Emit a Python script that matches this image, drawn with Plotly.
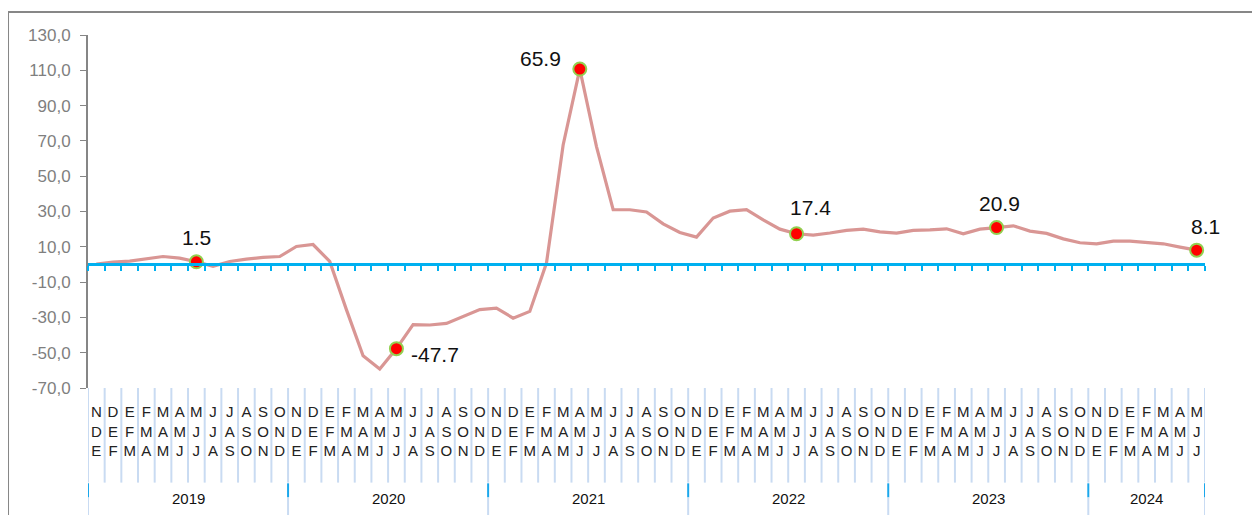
import plotly.graph_objects as go

# ---- data ----
periods = ["NDE", "DEF", "EFM", "FMA", "MAM", "AMJ", "MJJ", "JJA", "JAS", "ASO", "SON", "OND"]
years = ["2019", "2020", "2021", "2022", "2023", "2024"]
year_counts = [12, 12, 12, 12, 12, 7]
categories = []
for y, n in zip(years, year_counts):
    categories += periods[:n]

values = [0.2, 1.3, 1.9, 3.2, 4.5, 3.6, 1.5, -1.1, 1.7, 3.0, 4.0, 4.5,
          10.2, 11.3, 1.7, -25.6, -51.7, -59.2, -47.7, -34.1, -34.3, -33.4, -29.4, -25.6,
          -24.7, -30.4, -26.6, 0.8, 67.7, 110.7, 66.8, 31.0, 31.0, 29.7, 23.0, 18.1,
          15.5, 26.3, 30.2, 31.0, 25.3, 20.0, 17.4, 16.6, 17.8, 19.3, 20.0, 18.5,
          17.8, 19.3, 19.6, 20.2, 17.4, 20.0, 20.9, 21.9, 18.9, 17.6, 14.5, 12.3,
          11.7, 13.2, 13.2, 12.3, 11.7, 9.8, 8.1]

label_idx = [6, 18, 29, 42, 54, 66]
label_text = ["1.5", "-47.7", "65.9", "17.4", "20.9", "8.1"]
label_shift = [(0, 24), (39, -6), (-39, 11), (14, 26), (3, 24), (9, 24)]

y_ticks = [-70, -50, -30, -10, 10, 30, 50, 70, 90, 110, 130]
y_ticktext = [f"{v:.1f}".replace(".", ",") for v in y_ticks]

n = len(categories)
xs = list(range(n))
FONT = "Liberation Sans, Arial, sans-serif"

fig = go.Figure()
fig.add_trace(go.Scatter(
    x=xs, y=values, mode="lines",
    line=dict(color="#d99694", width=3.2), hoverinfo="skip", showlegend=False))
fig.add_trace(go.Scatter(
    x=[xs[i] for i in label_idx], y=[values[i] for i in label_idx], mode="markers",
    marker=dict(color="#ff0000", size=13, line=dict(color="#92d050", width=2)),
    hoverinfo="skip", showlegend=False))
# dummy trace to activate the zero-crossing axis
fig.add_trace(go.Scatter(x=[0], y=[0], xaxis="x2", mode="markers",
                         marker=dict(opacity=0), hoverinfo="skip", showlegend=False))

for i, t, (dx, dy) in zip(label_idx, label_text, label_shift):
    fig.add_annotation(x=xs[i], y=values[i], text=t, showarrow=False,
                       xshift=dx, yshift=dy, font=dict(size=21, color="#111111", family=FONT))

# category separators
for b in range(n + 1):
    fig.add_shape(type="line", xref="x", yref="paper", x0=b - 0.5, x1=b - 0.5,
                  y0=0, y1=-0.268, line=dict(color="#c9dbf2", width=2))
# year separators and labels
start = 0
bounds = [0]
for y, c in zip(years, year_counts):
    fig.add_annotation(x=start + (c - 1) / 2, y=-0.312, xref="x", yref="paper",
                       yanchor="middle", text=y, showarrow=False,
                       font=dict(size=15, color="#111111", family=FONT))
    start += c
    bounds.append(start)
for b in bounds:
    fig.add_shape(type="line", xref="x", yref="paper", x0=b - 0.5, x1=b - 0.5,
                  y0=-0.27, y1=-0.31, line=dict(color="#1aa7ec", width=2))
    fig.add_shape(type="line", xref="x", yref="paper", x0=b - 0.5, x1=b - 0.5,
                  y0=-0.31, y1=-0.36, line=dict(color="#c9dbf2", width=2))

# outer frame (top and left)
fig.add_shape(type="line", xref="paper", yref="paper", x0=-0.0716, x1=1.1, y0=1.065, y1=1.065,
              line=dict(color="#878787", width=2))
fig.add_shape(type="line", xref="paper", yref="paper", x0=-0.0716, x1=-0.0716, y0=1.065, y1=-0.5,
              line=dict(color="#878787", width=2))

fig.update_layout(
    width=1252, height=507,
    margin=dict(l=80, r=55, t=27, b=127),
    paper_bgcolor="white", plot_bgcolor="white",
    font=dict(family=FONT),
    xaxis=dict(range=[-0.5, n - 0.5], tickmode="array", tickvals=xs,
               ticktext=["<br>".join(c) for c in categories],
               ticks="", showline=False, showgrid=False, zeroline=False,
               tickfont=dict(size=15, color="#222222", family=FONT),
               ticklabelstandoff=13, tickangle=0),
    xaxis2=dict(range=[-0.5, n - 0.5], overlaying="x", anchor="free", position=0.35,
                side="bottom", tickmode="array", tickvals=[b - 0.5 for b in range(n + 1)],
                ticks="outside", ticklen=5, tickwidth=2, tickcolor="#00b0f0",
                showline=True, linecolor="#00b0f0", linewidth=2.5,
                showticklabels=False, showgrid=False, zeroline=False),
    yaxis=dict(range=[-70, 130], tickmode="array", tickvals=y_ticks, ticktext=y_ticktext,
               showline=True, linecolor="#868686", linewidth=2,
               ticks="outside", ticklen=6, tickcolor="#868686",
               showgrid=False, zeroline=False,
               tickfont=dict(size=17, color="#7f7f7f", family=FONT),
               ticklabelstandoff=6),
)

fig.write_html("out.html")
